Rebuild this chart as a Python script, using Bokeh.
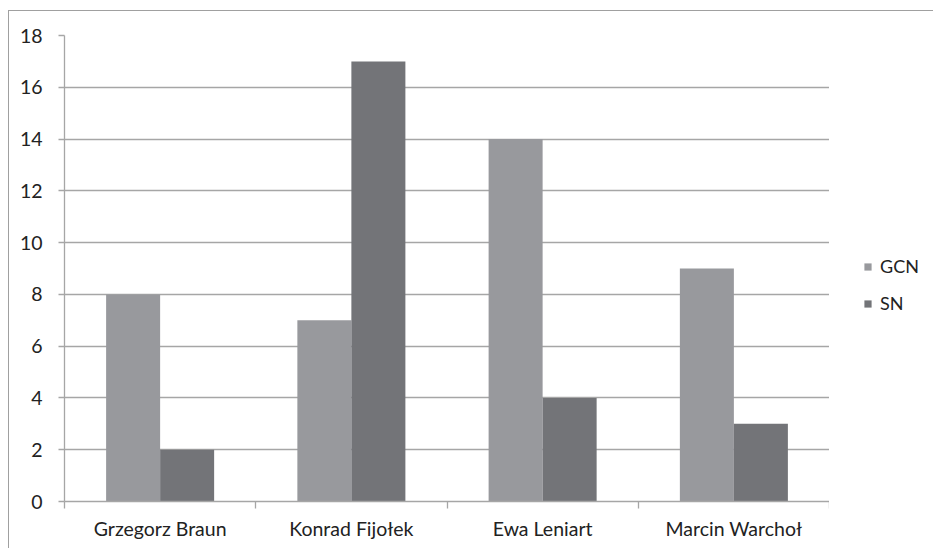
from bokeh.plotting import figure
from bokeh.layouts import row
from bokeh.models import Range1d, FixedTicker, Legend, LegendItem, ColumnDataSource
from bokeh.embed import file_html
from bokeh.resources import INLINE

# ---- data ----
categories = ["Grzegorz Braun", "Konrad Fijołek", "Ewa Leniart", "Marcin Warchoł"]
series = ["GCN", "SN"]
gcn = [8, 7, 14, 9]
sn = [2, 17, 4, 3]
y_ticks = [0, 2, 4, 6, 8, 10, 12, 14, 16, 18]

FONT = "Lato"
FS = "19.5px"
BAR_W = 0.2824
GCN_COLOR = "#98999d"
SN_COLOR = "#737478"
GRID = "#a6a6a6"

centers = [i + 0.5 for i in range(len(categories))]
src = ColumnDataSource(dict(
    x_gcn=[c - BAR_W / 2 for c in centers],
    x_sn=[c + BAR_W / 2 for c in centers],
    gcn=gcn, sn=sn,
))

p = figure(width=820, height=537, output_backend="svg", toolbar_location=None,
           x_range=Range1d(0, len(categories)), y_range=Range1d(0, 18),
           min_border_left=55, min_border_right=0, min_border_top=24,
           min_border_bottom=47)
p.outline_line_color = None
p.background_fill_color = "white"
p.border_fill_color = "white"

p.vbar(x="x_gcn", top="gcn", width=BAR_W, source=src,
       fill_color=GCN_COLOR, line_color=None)
p.vbar(x="x_sn", top="sn", width=BAR_W, source=src,
       fill_color=SN_COLOR, line_color=None)

# grids
p.xgrid.grid_line_color = None
p.ygrid.grid_line_color = GRID
p.ygrid.grid_line_width = 1.3
p.ygrid.ticker = FixedTicker(ticks=y_ticks)

# y axis
p.yaxis.ticker = FixedTicker(ticks=y_ticks)
p.yaxis.axis_line_color = GRID
p.yaxis.axis_line_width = 1.3
p.yaxis.major_tick_line_color = GRID
p.yaxis.major_tick_line_width = 1.3
p.yaxis.major_tick_in = 0
p.yaxis.major_tick_out = 6
p.yaxis.minor_tick_line_color = None
p.yaxis.major_label_standoff = 16
p.yaxis.major_label_text_font = FONT
p.yaxis.major_label_text_font_size = FS
p.yaxis.major_label_text_color = "#222222"

# x axis: labels at centers, ticks at boundaries (minor ticks)
p.xaxis.ticker = FixedTicker(ticks=centers, minor_ticks=list(range(len(categories) + 1)))
p.xaxis.major_label_overrides = {c: name for c, name in zip(centers, categories)}
p.xaxis.axis_line_color = GRID
p.xaxis.axis_line_width = 1.3
p.xaxis.major_tick_line_color = None
p.xaxis.minor_tick_line_color = GRID
p.xaxis.minor_tick_line_width = 1.3
p.xaxis.minor_tick_in = 0
p.xaxis.minor_tick_out = 7
p.xaxis.major_label_standoff = 8
p.xaxis.major_label_text_font = FONT
p.xaxis.major_label_text_font_size = FS
p.xaxis.major_label_text_color = "#222222"

# legend figure on the right (its own glyphs lie outside its visible range)
lf = figure(width=104, height=537, output_backend="svg", toolbar_location=None,
            x_range=Range1d(0, 1), y_range=Range1d(0, 1),
            min_border_left=0, min_border_right=0, min_border_top=0,
            min_border_bottom=0)
lf.axis.visible = False
lf.grid.visible = False
lf.outline_line_color = None
lf.border_fill_color = "white"
lg1 = lf.rect(x=[5], y=[5], width=1, height=1, fill_color=GCN_COLOR, line_color=None)
lg2 = lf.rect(x=[5], y=[5], width=1, height=1, fill_color=SN_COLOR, line_color=None)
legend = Legend(items=[LegendItem(label=series[0], renderers=[lg1]),
                       LegendItem(label=series[1], renderers=[lg2])],
                location=(34, 187), orientation="vertical",
                border_line_color=None, background_fill_alpha=0,
                glyph_width=9, glyph_height=9, label_standoff=8, spacing=15,
                label_text_font=FONT, label_text_font_size="18px",
                label_text_color="#222222", padding=0, margin=0)
lf.add_layout(legend)

layout = row(p, lf, margin=(10, 0, 0, 8), spacing=0,
             styles={"border-left": "1.5px solid #a0a0a0",
                     "border-top": "1.5px solid #a0a0a0"})

open("out.html", "w").write(file_html(layout, INLINE))
